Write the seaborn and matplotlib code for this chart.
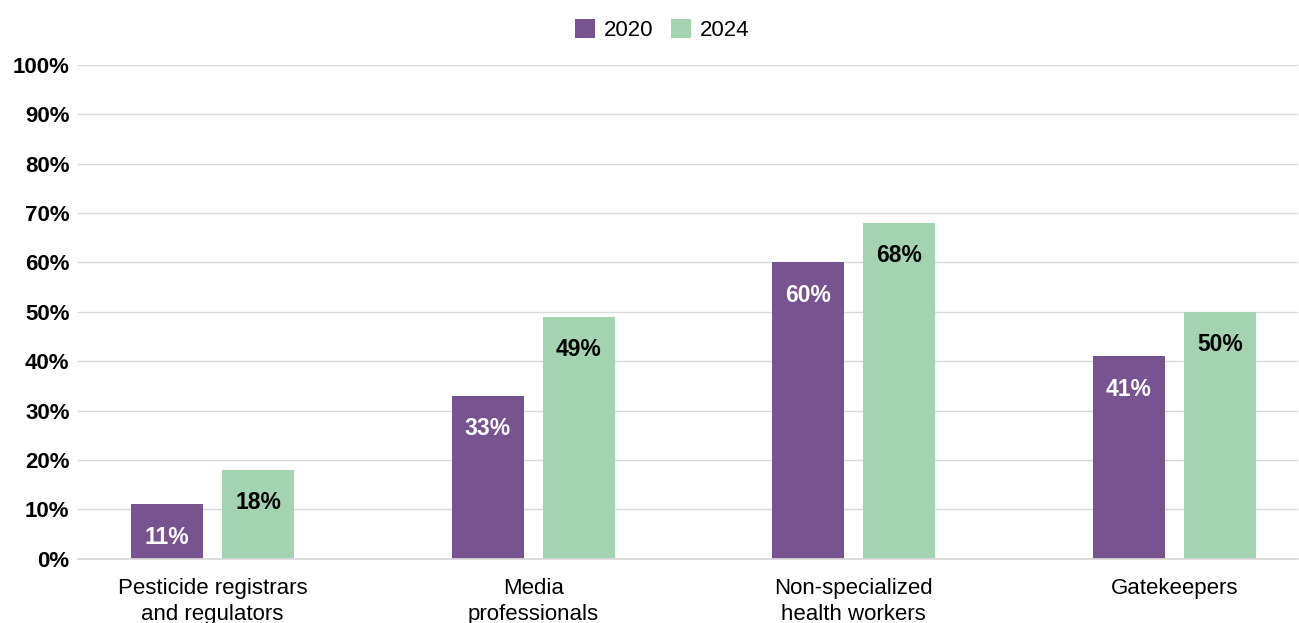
import pandas as pd
import matplotlib.pyplot as plt
import seaborn as sns

# Data
categories = ["Pesticide registrars\nand regulators", "Media\nprofessionals",
              "Non-specialized\nhealth workers", "Gatekeepers"]
years = ["2020", "2024"]
values_2020 = [11, 33, 60, 41]
values_2024 = [18, 49, 68, 50]

df = pd.DataFrame({
    "category": categories * 2,
    "year": [years[0]] * 4 + [years[1]] * 4,
    "value": values_2020 + values_2024,
})

sns.set_theme(style="white")
plt.rcParams['font.family'] = ['Liberation Sans', 'DejaVu Sans']
plt.rcParams['text.color'] = 'black'
plt.rcParams['xtick.color'] = 'black'
plt.rcParams['ytick.color'] = 'black'

palette = {"2020": "#77538f", "2024": "#a3d3b0"}

fig = plt.figure(figsize=(12.99, 6.23), dpi=100)
ax = fig.add_axes([0.060, 0.103, 0.939, 0.793])

sns.barplot(data=df, x="category", y="value", hue="year", palette=palette,
            width=0.567, gap=0.209, saturation=1, linewidth=0, ax=ax, legend=True)

ax.set_ylim(0, 100)
ax.set_xlim(-0.42, 3.385)
ax.set_yticks(range(0, 101, 10))
ax.set_yticklabels([f"{v}%" for v in range(0, 101, 10)], fontsize=16, fontweight="bold")
ax.tick_params(axis="x", labelsize=16, length=0, pad=14)
ax.tick_params(axis="y", length=0, pad=6)
ax.set_xlabel("")
ax.set_ylabel("")
ax.yaxis.grid(True, color="#d9d9d9", linewidth=1)
ax.set_axisbelow(True)
for s in ["top", "right", "left"]:
    ax.spines[s].set_visible(False)
ax.spines["bottom"].set_color("#d9d9d9")
for t in ax.get_xticklabels():
    t.set_linespacing(1.3)

# value labels inside the bars
for container, color in zip(ax.containers, ["white", "black"]):
    ax.bar_label(container, labels=[f"{int(b.get_height())}%" for b in container],
                 label_type="edge", padding=-32, color=color,
                 fontsize=16.5, fontweight="bold")

ax.legend(loc="lower center", bbox_to_anchor=(0.479, 1.025), ncol=2, frameon=False,
          fontsize=16, handlelength=0.9, handleheight=0.9, handletextpad=0.4,
          columnspacing=0.75, borderpad=0)

fig.savefig("out.png", dpi=100)
